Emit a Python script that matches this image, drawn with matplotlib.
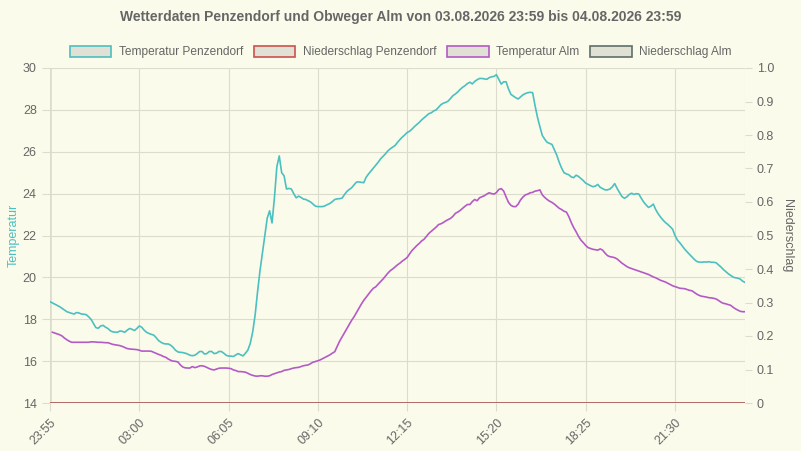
import numpy as np
import matplotlib.pyplot as plt
from matplotlib.patches import Patch

# 5-Minuten-Werte ab 23:55
temp_penzendorf = [
    18.84, 18.78, 18.72, 18.66, 18.6, 18.52, 18.44, 18.36, 18.32, 18.28, 18.25, 18.32,
    18.3, 18.25, 18.24, 18.22, 18.12, 18.0, 17.8, 17.6, 17.57, 17.68, 17.71, 17.62,
    17.56, 17.45, 17.4, 17.38, 17.38, 17.44, 17.42, 17.38, 17.48, 17.56, 17.52, 17.46,
    17.56, 17.68, 17.62, 17.48, 17.38, 17.32, 17.28, 17.24, 17.12, 16.98, 16.9, 16.84,
    16.82, 16.82, 16.76, 16.66, 16.52, 16.44, 16.42, 16.41, 16.38, 16.34, 16.28, 16.26,
    16.28, 16.36, 16.46, 16.46, 16.34, 16.36, 16.46, 16.46, 16.36, 16.38, 16.46, 16.46,
    16.38, 16.28, 16.24, 16.24, 16.22, 16.3, 16.36, 16.3, 16.25, 16.38, 16.53, 16.85,
    17.4, 18.2, 19.3, 20.3, 21.15, 22.0, 22.82, 23.18, 22.6, 23.8, 25.28, 25.8,
    25.0, 24.85, 24.22, 24.25, 24.22, 24.0, 23.8, 23.88, 23.82, 23.74, 23.72, 23.66,
    23.6, 23.5, 23.4, 23.38, 23.38, 23.38, 23.42, 23.48, 23.53, 23.62, 23.72, 23.75,
    23.76, 23.78, 23.95, 24.1, 24.2, 24.28, 24.42, 24.55, 24.56, 24.54, 24.52, 24.78,
    24.94, 25.08, 25.22, 25.36, 25.5, 25.66, 25.78, 25.9, 26.04, 26.14, 26.22, 26.3,
    26.45, 26.58, 26.7, 26.8, 26.92, 26.98, 27.08, 27.2, 27.3, 27.4, 27.52, 27.62,
    27.72, 27.82, 27.86, 27.95, 28.0, 28.12, 28.25, 28.32, 28.36, 28.42, 28.55, 28.68,
    28.76, 28.86, 28.98, 29.08, 29.16, 29.26, 29.32, 29.24, 29.36, 29.44, 29.5, 29.5,
    29.48, 29.46, 29.54, 29.58, 29.6, 29.68, 29.45, 29.23, 29.34, 29.34, 29.0, 28.74,
    28.66, 28.58, 28.52, 28.62, 28.72, 28.78, 28.82, 28.84, 28.82, 28.2, 27.65, 27.2,
    26.78, 26.6, 26.45, 26.4, 26.35, 26.1, 25.84, 25.5, 25.22, 25.0, 24.94, 24.9,
    24.8, 24.76, 24.88, 24.82, 24.72, 24.62, 24.5, 24.44, 24.38, 24.33, 24.36, 24.44,
    24.3, 24.24, 24.18, 24.18, 24.22, 24.32, 24.48, 24.25, 24.06, 23.86, 23.78, 23.84,
    23.96, 24.02, 23.96, 24.0, 23.98, 23.78, 23.6, 23.46, 23.34, 23.4, 23.5, 23.24,
    23.04, 22.88, 22.74, 22.62, 22.53, 22.42, 22.3, 22.0, 21.78, 21.65, 21.5, 21.35,
    21.22, 21.1, 20.98, 20.86, 20.76, 20.73, 20.72, 20.74, 20.73, 20.75, 20.72, 20.72,
    20.7, 20.6, 20.5, 20.38, 20.28, 20.18, 20.1, 20.02, 19.98, 19.96, 19.92, 19.82,
    19.76]

temp_alm = [
    np.nan, 17.38, 17.34, 17.3, 17.26, 17.2, 17.1, 17.02, 16.95, 16.9, 16.9, 16.9,
    16.9, 16.9, 16.9, 16.9, 16.9, 16.92, 16.92, 16.91, 16.9, 16.9, 16.89, 16.88,
    16.88, 16.84, 16.8, 16.78, 16.76, 16.74, 16.7, 16.65, 16.6, 16.58, 16.57, 16.56,
    16.55, 16.52, 16.48, 16.48, 16.48, 16.48, 16.47, 16.42, 16.37, 16.32, 16.28, 16.22,
    16.18, 16.1, 16.04, 16.0, 15.99, 15.96, 15.82, 15.72, 15.68, 15.67, 15.67, 15.74,
    15.69, 15.72, 15.77, 15.78, 15.75, 15.7, 15.64, 15.6, 15.58, 15.62, 15.66, 15.67,
    15.67, 15.67, 15.66, 15.64, 15.58, 15.55, 15.5, 15.5, 15.49, 15.47, 15.42, 15.36,
    15.32, 15.29, 15.28, 15.3, 15.3, 15.28, 15.28, 15.3, 15.36, 15.4, 15.44, 15.48,
    15.5, 15.56, 15.58, 15.6, 15.64, 15.67, 15.69, 15.7, 15.74, 15.78, 15.8, 15.82,
    15.88, 15.95, 15.98, 16.02, 16.06, 16.12, 16.18, 16.24, 16.3, 16.38, 16.45, 16.7,
    16.95, 17.15, 17.35, 17.55, 17.75, 17.95, 18.12, 18.32, 18.52, 18.72, 18.9, 19.05,
    19.2, 19.35, 19.48, 19.55, 19.68, 19.8, 19.92, 20.06, 20.2, 20.32, 20.4, 20.5,
    20.6, 20.68, 20.78, 20.86, 20.95, 21.12, 21.28, 21.4, 21.52, 21.62, 21.74, 21.82,
    21.96, 22.1, 22.2, 22.3, 22.4, 22.52, 22.56, 22.62, 22.7, 22.76, 22.82, 22.92,
    23.06, 23.12, 23.2, 23.3, 23.4, 23.48, 23.48, 23.62, 23.72, 23.66, 23.8, 23.85,
    23.9, 23.98, 24.04, 24.0, 23.98, 24.05, 24.2, 24.24, 24.12, 23.84, 23.58, 23.44,
    23.38, 23.38, 23.5, 23.7, 23.84, 23.94, 23.98, 24.04, 24.06, 24.12, 24.14, 24.18,
    23.94, 23.82, 23.72, 23.64, 23.58, 23.5, 23.4, 23.3, 23.24, 23.16, 23.12, 22.9,
    22.62, 22.38, 22.18, 21.96, 21.78, 21.66, 21.52, 21.42, 21.38, 21.34, 21.32, 21.3,
    21.36, 21.3, 21.16, 21.04, 20.99, 20.97, 20.94, 20.88, 20.78, 20.68, 20.6, 20.52,
    20.46, 20.42, 20.38, 20.34, 20.3, 20.26, 20.22, 20.18, 20.14, 20.08, 20.02, 19.98,
    19.92, 19.86, 19.82, 19.78, 19.72, 19.66, 19.6, 19.56, 19.52, 19.48, 19.47, 19.46,
    19.42, 19.38, 19.36, 19.28, 19.2, 19.14, 19.1, 19.08, 19.06, 19.03, 19.02, 19.0,
    18.97, 18.9, 18.82, 18.76, 18.74, 18.7, 18.67, 18.58, 18.5, 18.44, 18.38, 18.36,
    18.36]

regen_penzendorf = [0.0] * len(temp_penzendorf)
regen_alm = [0.0] * len(temp_alm)

minuten = np.arange(len(temp_penzendorf)) * 5
tick_minuten = [0, 185, 370, 555, 740, 925, 1110, 1295]
tick_labels = ['23:55', '03:00', '06:05', '09:10', '12:15', '15:20', '18:25', '21:30']

plt.rcParams['font.family'] = ['Liberation Sans', 'DejaVu Sans']

bg = '#fbfbeb'
grid_c = '#dcdccc'
text_c = '#666666'
c_pz = '#4bc0c0'
c_rpz = '#d0504c'
c_alm = '#b45ac6'
c_ralm = '#5f6e6c'

fig = plt.figure(figsize=(8.01, 4.51), dpi=100, facecolor=bg)
ax = fig.add_axes([50/801, 1-403/451, 695/801, 335/451], facecolor=bg)
ax2 = ax.twinx()

ax.plot(minuten, temp_penzendorf, color=c_pz, lw=1.2, zorder=3)
ax.plot(minuten, temp_alm, color=c_alm, lw=1.2, zorder=3)
ax2.plot(minuten, regen_penzendorf, color=c_rpz, lw=1.2)
ax2.plot(minuten, regen_alm, color=c_ralm, lw=1.2, alpha=0.35)

ax.set_xlim(0, 1440)
ax.set_ylim(14, 30)
ax.set_yticks(range(14, 31, 2))
ax2.set_ylim(0, 1.0)
ax2.set_yticks(np.arange(0, 1.01, 0.1))
ax2.set_yticklabels(['0'] + ['%.1f' % v for v in np.arange(0.1, 1.01, 0.1)])
ax.set_xticks(tick_minuten)
ax.set_xticklabels(tick_labels, rotation=45, ha='right', rotation_mode='anchor')

ax.grid(True, color=grid_c, lw=0.8)
for a in (ax, ax2):
    for s in a.spines.values():
        s.set_visible(False)
ax.axvline(0, color=grid_c, lw=1.8, zorder=1)
ax.axvline(1440, color=grid_c, lw=0.8, zorder=1)
ax.tick_params(colors=text_c, labelsize=9, length=6, width=0.8)
ax.tick_params(axis='both', color=grid_c)
ax2.tick_params(colors=text_c, labelsize=9, length=5, width=0.8, color=grid_c)
ax.tick_params(axis='x', pad=4)

ax.set_ylabel('Temperatur', color=c_pz, fontsize=9, labelpad=2.5)
ax2.set_ylabel('Niederschlag', color=text_c, fontsize=9, rotation=-90, labelpad=13.5)

fig.text(0.5, 1-17/451, 'Wetterdaten Penzendorf und Obweger Alm von 03.08.2026 23:59 bis 04.08.2026 23:59',
         ha='center', va='center', fontsize=10, fontweight='bold', color=text_c)

handles = [Patch(facecolor='#e0e0d4', edgecolor=c, lw=1.2) for c in (c_pz, c_rpz, c_alm, c_ralm)]
labels = ['Temperatur Penzendorf', 'Niederschlag Penzendorf', 'Temperatur Alm', 'Niederschlag Alm']
fig.legend(handles, labels, loc='center', bbox_to_anchor=(0.5, 1-52/451), ncol=4, frameon=False,
           fontsize=8.6, labelcolor=text_c, handlelength=3.5, handleheight=1.1,
           columnspacing=0.9, handletextpad=0.6)

fig.savefig('out.png', dpi=100, facecolor=bg)
